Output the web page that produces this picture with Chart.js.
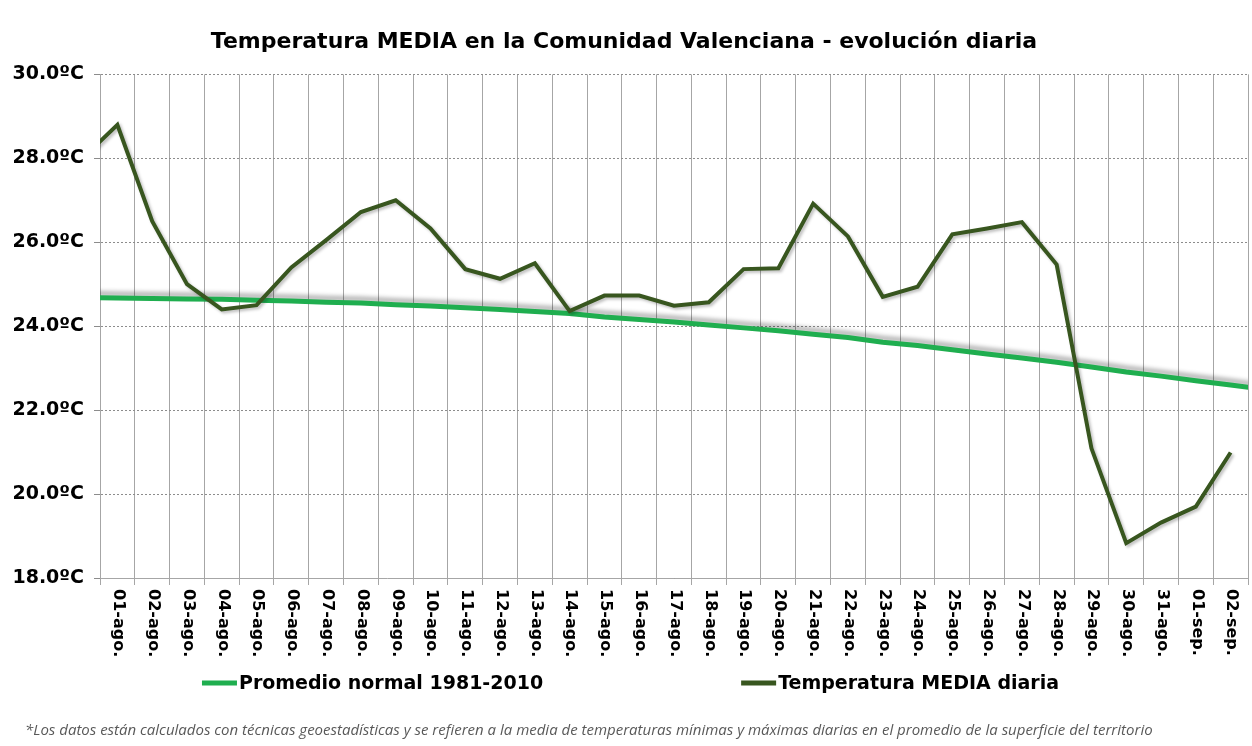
<!DOCTYPE html>
<html>
<head>
  <meta charset="utf-8">
  <title>Temperatura MEDIA en la Comunidad Valenciana</title>
  <script src="https://cdn.jsdelivr.net/npm/chart.js"></script>
  <style>
    html, body { margin: 0; padding: 0; background: #fff; }
  </style>
</head>
<body>
  <canvas id="tempChart" width="1252" height="746"></canvas>

  <script>
    // el primer y el ultimo dia quedan fuera del grafico (solo se ve el tramo que entra)
    const days = ['31-jul.', '01-ago.', '02-ago.', '03-ago.', '04-ago.', '05-ago.', '06-ago.', '07-ago.',
      '08-ago.', '09-ago.', '10-ago.', '11-ago.', '12-ago.', '13-ago.', '14-ago.', '15-ago.', '16-ago.',
      '17-ago.', '18-ago.', '19-ago.', '20-ago.', '21-ago.', '22-ago.', '23-ago.', '24-ago.', '25-ago.',
      '26-ago.', '27-ago.', '28-ago.', '29-ago.', '30-ago.', '31-ago.', '01-sep.', '02-sep.', '03-sep.'];

    const promedioNormal = [24.69, 24.67, 24.66, 24.65, 24.64, 24.62, 24.60, 24.57, 24.55, 24.51, 24.48,
      24.44, 24.40, 24.35, 24.30, 24.22, 24.16, 24.10, 24.03, 23.96, 23.89, 23.81, 23.73, 23.62, 23.54,
      23.44, 23.34, 23.24, 23.14, 23.03, 22.91, 22.81, 22.70, 22.60, 22.49];

    const mediaDiaria = [28.0, 28.8, 26.5, 25.0, 24.4, 24.5, 25.4, 26.05, 26.72, 27.0, 26.33,
      25.36, 25.13, 25.5, 24.36, 24.73, 24.73, 24.49, 24.57, 25.36, 25.38, 26.92, 26.14, 24.7, 24.94,
      26.19, 26.33, 26.48, 25.47, 21.09, 18.83, 19.32, 19.70, 20.99, null];

    const yTicks = [18, 20, 22, 24, 26, 28, 30];

    const nota = '*Los datos están calculados con técnicas geoestadísticas y se refieren a la media de temperaturas mínimas y máximas diarias en el promedio de la superficie del territorio';

    const FONT = 'DejaVu Sans';

    // primer y ultimo dia visibles
    const firstDay = 1;
    const lastDay = days.length - 2;

    const toPoints = arr => arr.map((v, i) => ({ x: i, y: v }));

    // sombra suave bajo cada linea, como en el original
    const shadowPlugin = {
      id: 'lineShadow',
      beforeDatasetDraw(chart, args) {
        const ds = chart.data.datasets[args.index];
        const ctx = chart.ctx;
        ctx.save();
        ctx.shadowColor = ds.shadow.color;
        ctx.shadowBlur = ds.shadow.blur;
        ctx.shadowOffsetX = ds.shadow.x;
        ctx.shadowOffsetY = ds.shadow.y;
      },
      afterDatasetDraw(chart) {
        chart.ctx.restore();
      }
    };

    // etiquetas del eje x giradas en sentido horario, leyenda y nota al pie
    const extrasPlugin = {
      id: 'extras',
      afterDraw(chart) {
        const ctx = chart.ctx;
        const xs = chart.scales.x;
        const area = chart.chartArea;

        ctx.save();
        ctx.fillStyle = '#000';
        ctx.font = 'bold 16px "' + FONT + '"';
        ctx.textAlign = 'left';
        ctx.textBaseline = 'middle';
        xs.ticks.forEach((t, i) => {
          const x = xs.getPixelForTick(i) + 1;
          ctx.save();
          ctx.translate(x, area.bottom + 11);
          ctx.rotate(Math.PI / 2);
          ctx.fillText(days[t.value], 0, 0);
          ctx.restore();
        });

        // leyenda
        ctx.font = 'bold 19px "' + FONT + '"';
        const items = chart.data.datasets.map(ds => ({
          label: ds.label, color: ds.borderColor, w: 38 + ctx.measureText(ds.label).width
        }));
        const gap = 197;
        const total = items.reduce((s, it) => s + it.w, 0) + gap * (items.length - 1);
        let x = (chart.width - total) / 2 + 5;
        const ly = 683;
        items.forEach(it => {
          ctx.strokeStyle = it.color;
          ctx.lineWidth = 5;
          ctx.beginPath();
          ctx.moveTo(x, ly);
          ctx.lineTo(x + 35, ly);
          ctx.stroke();
          ctx.fillStyle = '#000';
          ctx.fillText(it.label, x + 37, ly + 1);
          x += it.w + gap;
        });

        // nota
        ctx.font = 'italic 15px "Open Sans"';
        ctx.fillStyle = '#595959';
        ctx.fillText(nota, 25, 731);
        ctx.restore();
      }
    };

    const chart = new Chart(document.getElementById('tempChart'), {
      type: 'line',
      data: {
        datasets: [{
          label: 'Promedio normal 1981-2010',
          data: toPoints(promedioNormal),
          borderColor: '#1fae4f',
          borderWidth: 5,
          pointRadius: 0,
          tension: 0,
          clip: 0,
          order: 1,
          shadow: { color: 'rgba(0,0,0,0.3)', blur: 4, x: 0, y: -4 }
        }, {
          label: 'Temperatura MEDIA diaria',
          data: toPoints(mediaDiaria),
          borderColor: '#38561f',
          borderWidth: 4,
          pointRadius: 0,
          tension: 0,
          clip: 0,
          order: 0,
          shadow: { color: 'rgba(0,0,0,0.25)', blur: 3, x: 2, y: 2 }
        }]
      },
      options: {
        responsive: false,
        animation: false,
        layout: { padding: { left: 0, right: 4, top: 0, bottom: 0 } },
        plugins: {
          legend: { display: false },
          tooltip: { enabled: false },
          title: {
            display: true,
            text: 'Temperatura MEDIA en la Comunidad Valenciana - evolución diaria',
            color: '#000',
            font: { family: FONT, weight: 'bold', size: 22 },
            padding: { top: 29, bottom: 19 }
          }
        },
        scales: {
          x: {
            type: 'linear',
            min: firstDay - 0.5,
            max: lastDay + 0.5,
            afterBuildTicks: s => {
              s.ticks = days.slice(firstDay, lastDay + 1).map((d, i) => ({ value: firstDay + i }));
            },
            ticks: { display: false },
            grid: { offset: true, color: '#a6a6a6', tickLength: 7 },
            border: { color: '#a6a6a6' },
            afterFit: s => { s.height = 168; }
          },
          y: {
            min: 18,
            max: 30,
            afterBuildTicks: s => { s.ticks = yTicks.map(v => ({ value: v })); },
            ticks: {
              callback: v => v.toFixed(1) + 'ºC',
              color: '#000',
              padding: 10,
              font: { family: FONT, weight: 'bold', size: 19 }
            },
            grid: { color: '#8c8c8c', tickLength: 6 },
            border: { color: '#a6a6a6', dash: [2, 2] },
            afterFit: s => { s.width = 100; }
          }
        }
      },
      plugins: [shadowPlugin, extrasPlugin]
    });
  </script>
</body>
</html>
